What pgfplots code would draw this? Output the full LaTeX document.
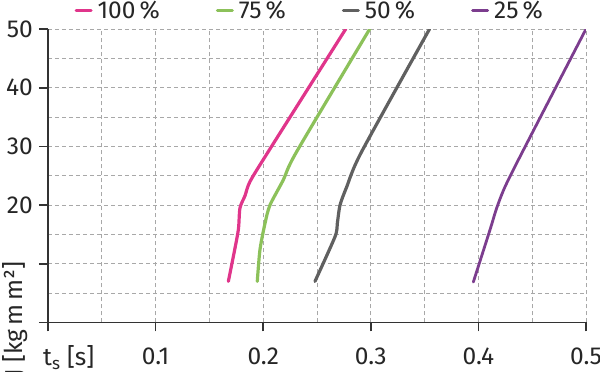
\documentclass[border=0pt]{standalone}
\usepackage{fontspec}
\setmainfont{Fira Sans}
\usepackage{pgfplots}
\pgfplotsset{compat=1.18}
\definecolor{cpink}{HTML}{E0358B}
\definecolor{cgreen}{HTML}{8CC15A}
\definecolor{cgray}{HTML}{606060}
\definecolor{cpurple}{HTML}{7C3D8E}
\definecolor{caxis}{HTML}{333333}
\definecolor{cgrid}{HTML}{A8A8A8}
\begin{document}
\fontsize{24.5}{29}\selectfont
\begin{tikzpicture}
\begin{axis}[
  scale only axis, width=538pt, height=293.5pt,
  xmin=0, xmax=0.5, ymin=0, ymax=50,
  axis x line*=bottom, axis y line*=left,
  axis line style={caxis, line width=1.6pt},
  tick style={caxis, line width=1.6pt},
  tick align=outside, major tick length=9pt, minor tick length=0pt,
  xtick={0,0.1,0.2,0.3,0.4,0.5},
  xticklabels={,0.1,0.2,0.3,0.4,0.5},
  minor xtick={0.05,0.15,0.25,0.35,0.45},
  ytick={0,10,20,30,40,50},
  yticklabels={,,20,30,40,50},
  minor ytick={5,15,25,35,45},
  grid=both,
  major grid style={cgrid, line width=0.8pt, dash pattern=on 4pt off 3pt},
  minor grid style={cgrid, line width=0.8pt, dash pattern=on 4pt off 3pt},
  /pgf/number format/assume math mode=true,
  ticklabel style={font=\fontsize{24.5}{29}\selectfont, text=black!85},
  xticklabel style={anchor=north, inner sep=0pt, yshift=-16pt},
  yticklabel style={anchor=east, inner sep=0pt, xshift=-6pt},
  legend columns=4,
  legend style={draw=none, fill=none, inner sep=0pt,
    at={(axis description cs:0.0490,1.058)}, anchor=west,
    font=\fontsize{24.5}{29}\selectfont,
    nodes={inner xsep=0pt, inner ysep=0pt, text=black!85},
    /tikz/every odd column/.append style={column sep=5pt},
    /tikz/every even column/.append style={column sep=56pt}},
  legend image code/.code={\draw[#1, line width=3pt] (0pt,1.5pt) -- (15pt,1.5pt);},
  every axis plot/.append style={line width=3.2pt, line join=round, line cap=round, smooth, tension=0.45},
]
\addplot[cpink] coordinates {(0.1676,7.0) (0.1720,11.0) (0.1769,15.8) (0.1784,19.5) (0.1831,21.6) (0.1877,24.0) (0.2047,29.1) (0.2767,50)};
\addlegendentry{100\,\%}
\addplot[cgreen] coordinates {(0.1945,7.0) (0.1970,12.4) (0.2017,16.9) (0.2063,20.0) (0.2187,24.3) (0.2311,29.1) (0.2990,50)};
\addlegendentry{75\,\%}
\addplot[cgray] coordinates {(0.2481,7.0) (0.2667,14.6) (0.2689,16.9) (0.2714,20.0) (0.2776,23.1) (0.2915,29.1) (0.3546,50)};
\addlegendentry{50\,\%}
\addplot[cpurple, line width=2.8pt] coordinates {(0.3953,6.9) (0.4108,15.8) (0.4170,19.5) (0.4247,23.1) (0.4402,28.8) (0.5,50)};
\addlegendentry{25\,\%}
\coordinate (O) at (rel axis cs:0,0);
\end{axis}
\node[anchor=base west, inner sep=0pt, text=black!85] at ([shift={(-5pt,-43.5pt)}]O) {t\textsubscript{s} [s]};
\node[rotate=90, anchor=base west, inner sep=0pt, text=black!85] at ([shift={(-25pt,-54pt)}]O) {J [kg\,m\,m²]};
\pgfresetboundingbox
\path[use as bounding box] ([shift={(-48pt,-49.5pt)}]O) rectangle ([shift={(552pt,322.5pt)}]O);
\end{tikzpicture}
\end{document}
